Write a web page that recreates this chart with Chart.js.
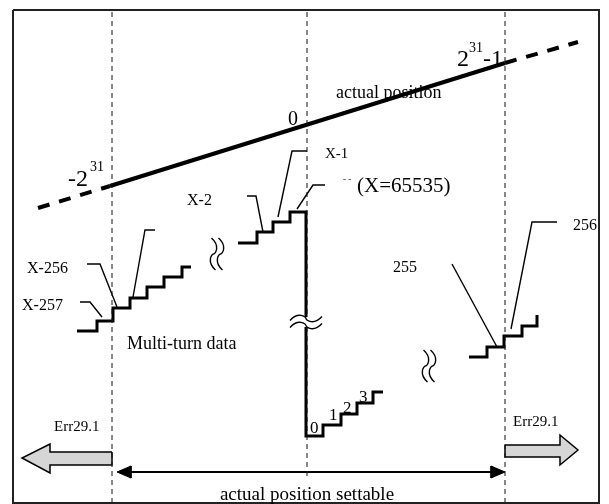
<!DOCTYPE html>
<html>
<head>
<meta charset="utf-8">
<script src="https://cdn.jsdelivr.net/npm/chart.js@4.4.1/dist/chart.umd.min.js"></script>
<style>
html, body { margin: 0; padding: 0; background: #fff; }
canvas { display: block; }
</style>
</head>
<body>
<canvas id="diagram" width="609" height="504"></canvas>
<script>
const CANVAS = document.getElementById('diagram')

// actual position line (diagram units, y grows downwards)
const actualPos = [{x: 110, y: 186}, {x: 505, y: 63}]
const overLow = [{x: 38, y: 208}, {x: 110, y: 186}]
const overHigh = [{x: 505, y: 63}, {x: 578, y: 42}]

// dashed guides
const guideX = [112, 307, 505]
const guideTop = [12, 12, 12]
const guideBottom = [503, 478, 503]

// multi-turn staircases
const stairLeft = [{x: 77, y: 331}, {x: 97, y: 321}, {x: 113, y: 308}, {x: 130, y: 298},
    {x: 147, y: 287}, {x: 164, y: 277}, {x: 182, y: 267}, {x: 191, y: 267}]
const stairMid = [{x: 238, y: 243}, {x: 257, y: 232}, {x: 273, y: 222}, {x: 290, y: 212},
    {x: 306, y: 212}, {x: 306, y: 436}, {x: 323, y: 425}, {x: 341, y: 414},
    {x: 357, y: 403}, {x: 373, y: 392}, {x: 383, y: 392}]
const stairRight = [{x: 469, y: 357}, {x: 487, y: 347}, {x: 504, y: 336}, {x: 522, y: 326}, {x: 537, y: 315}]

// leader lines
const leaders = [
    [{x: 80, y: 302}, {x: 90, y: 302}, {x: 102, y: 317}],
    [{x: 87, y: 264}, {x: 100, y: 264}, {x: 117, y: 307}],
    [{x: 155, y: 230}, {x: 145, y: 230}, {x: 133, y: 297}],
    [{x: 247, y: 196}, {x: 256, y: 196}, {x: 263, y: 232}],
    [{x: 307, y: 151}, {x: 292, y: 151}, {x: 278, y: 217}],
    [{x: 325, y: 185}, {x: 313, y: 185}, {x: 297, y: 209}],
    [{x: 452, y: 264}, {x: 497, y: 347}],
    [{x: 557, y: 222}, {x: 532, y: 222}, {x: 511, y: 329}]
]

// error arrows and settable range
const errLeft = [{x: 112, y: 452}, {x: 50, y: 452}, {x: 50, y: 444}, {x: 22, y: 458},
    {x: 50, y: 473}, {x: 50, y: 465}, {x: 112, y: 465}, {x: 112, y: 452}]
const errRight = [{x: 505, y: 445}, {x: 560, y: 445}, {x: 560, y: 435}, {x: 578, y: 450},
    {x: 560, y: 465}, {x: 560, y: 457}, {x: 505, y: 457}, {x: 505, y: 445}]
const rangeLine = [{x: 125, y: 472}, {x: 497, y: 472}]
const headLeft = [{x: 117, y: 472}, {x: 131, y: 466}, {x: 131, y: 478}, {x: 117, y: 472}]
const headRight = [{x: 505, y: 472}, {x: 491, y: 466}, {x: 491, y: 478}, {x: 505, y: 472}]

const frame = [{x: 13, y: 10}, {x: 599, y: 10}, {x: 599, y: 503}, {x: 13, y: 503}, {x: 13, y: 10}]

// texts
const labelText = ['actual position', '0', '2', '31', '-1', '-2', '31', 'X-1', 'X-2', '(X=65535)', '- -',
    'X-256', 'X-257', '255', '256', 'Multi-turn data', '0', '1', '2', '3', 'Err29.1', 'Err29.1',
    'actual position settable']
const labelX = [336, 288, 457, 469, 483, 68, 90, 325, 187, 357, 343, 27, 22, 393, 573, 127, 310, 329, 343, 359, 54, 513, 307]
const labelY = [98, 125, 66, 52, 66, 186, 171, 158, 205, 192, 182, 273, 310, 272, 230, 349, 433, 420, 413, 402, 431, 426, 500]
const labelSize = [18, 20, 24, 14, 24, 24, 14, 15, 16, 21, 9, 16, 16, 16, 16, 18, 17, 17, 17, 17, 15, 15, 19]
const labelAlign = ['left', 'left', 'left', 'left', 'left', 'left', 'left', 'left', 'left', 'left', 'left',
    'left', 'left', 'left', 'left', 'left', 'left', 'left', 'left', 'left', 'left', 'left', 'center']

// break marks (wavy pairs)
const breakX = [306, 217, 429]
const breakY = [322, 254, 366]
const breakVertical = [false, true, true]

function seg(points, opts) {
    return Object.assign({
        data: points,
        showLine: true,
        pointRadius: 0,
        borderColor: '#000',
        borderWidth: 1.3,
        borderCapStyle: 'butt',
        borderJoinStyle: 'miter',
        fill: false,
        tension: 0
    }, opts || {})
}

const datasets = []
datasets.push(seg(frame, {borderWidth: 2, borderColor: '#222'}))
guideX.forEach((gx, i) => {
    datasets.push(seg([{x: gx, y: guideTop[i]}, {x: gx, y: guideBottom[i]}],
        {borderWidth: 1, borderColor: '#111', borderDash: [5, 4]}))
})
datasets.push(seg(actualPos, {borderWidth: 4}))
datasets.push(seg(overLow, {borderWidth: 4, borderDash: [12, 10]}))
datasets.push(seg(overHigh, {borderWidth: 4, borderDash: [12, 10]}))
datasets.push(seg(stairLeft, {borderWidth: 3, stepped: true}))
datasets.push(seg(stairMid, {borderWidth: 3, stepped: true}))
datasets.push(seg(stairRight, {borderWidth: 3, stepped: true}))
leaders.forEach(l => datasets.push(seg(l, {borderWidth: 1.4})))
datasets.push(seg(errLeft, {borderWidth: 1.5, fill: 'shape', backgroundColor: '#d6d6d6'}))
datasets.push(seg(errRight, {borderWidth: 1.5, fill: 'shape', backgroundColor: '#d6d6d6'}))
datasets.push(seg(rangeLine, {borderWidth: 2}))
datasets.push(seg(headLeft, {borderWidth: 1, fill: 'shape', backgroundColor: '#000'}))
datasets.push(seg(headRight, {borderWidth: 1, fill: 'shape', backgroundColor: '#000'}))

const decorations = {
    id: 'decorations',
    afterDatasetsDraw(chart) {
        const ctx = chart.ctx
        const sx = chart.scales.x
        const sy = chart.scales.y
        ctx.save()
        ctx.fillStyle = '#000'
        ctx.textBaseline = 'alphabetic'
        labelText.forEach((t, i) => {
            ctx.font = labelSize[i] + 'px "Liberation Serif", "DejaVu Serif", serif'
            ctx.textAlign = labelAlign[i]
            ctx.fillText(t, sx.getPixelForValue(labelX[i]), sy.getPixelForValue(labelY[i]))
        })
        // wavy break marks
        ctx.strokeStyle = '#000'
        ctx.lineWidth = 1.4
        breakX.forEach((bx, i) => {
            const cx = sx.getPixelForValue(bx)
            const cy = sy.getPixelForValue(breakY[i])
            ctx.save()
            ctx.translate(cx, cy)
            if (breakVertical[i]) ctx.rotate(Math.PI / 2)
            ctx.fillStyle = '#fff'
            ctx.fillRect(-16, -5, 32, 10)
            ;[-3.5, 3.5].forEach(off => {
                ctx.beginPath()
                ctx.moveTo(-16, off + 2)
                ctx.bezierCurveTo(-8, off - 7, 0, off - 2, 0, off)
                ctx.bezierCurveTo(0, off + 2, 8, off + 7, 16, off - 2)
                ctx.stroke()
            })
            ctx.restore()
        })
        ctx.restore()
    }
}

let diagram = new Chart(CANVAS, {
    type: 'scatter',
    data: {datasets: datasets},
    options: {
        responsive: false,
        animation: false,
        events: [],
        layout: {padding: 0},
        plugins: {legend: {display: false}, tooltip: {enabled: false}},
        scales: {
            x: {type: 'linear', min: 0, max: 609, display: false},
            y: {type: 'linear', min: 0, max: 504, reverse: true, display: false}
        }
    },
    plugins: [decorations]
})
</script>
</body>
</html>
